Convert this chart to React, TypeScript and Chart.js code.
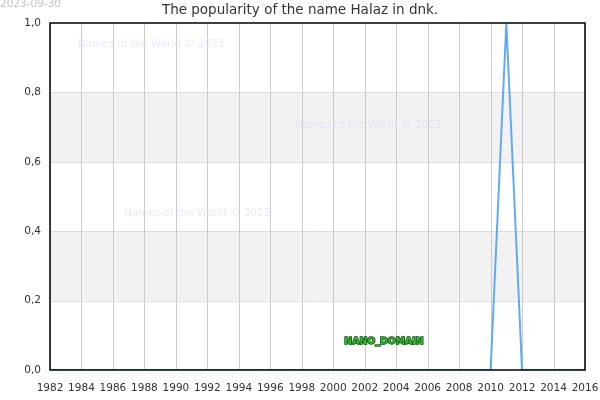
import { useEffect, useRef } from "react"
import { Chart, registerables } from "chart.js"

Chart.register(...registerables)

const years = [
  1982, 1983, 1984, 1985, 1986, 1987, 1988, 1989, 1990, 1991, 1992, 1993,
  1994, 1995, 1996, 1997, 1998, 1999, 2000, 2001, 2002, 2003, 2004, 2005,
  2006, 2007, 2008, 2009, 2010, 2011, 2012, 2013, 2014, 2015, 2016,
]
const popularity = [
  0, 0, 0, 0, 0, 0, 0, 0, 0, 0, 0, 0,
  0, 0, 0, 0, 0, 0, 0, 0, 0, 0, 0, 0,
  0, 0, 0, 0, 0, 1, 0, 0, 0, 0, 0,
]
const bands = [
  [0.2, 0.4],
  [0.6, 0.8],
]
const watermarks = [
  { x: 78, y: 44 },
  { x: 295, y: 125 },
  { x: 124, y: 213 },
]

const FONT = "DejaVu Sans"

const decorPlugin = {
  id: "decor",
  beforeDatasetsDraw(chart: any) {
    const { ctx, chartArea, scales } = chart
    ctx.save()
    bands.forEach(([lo, hi]) => {
      const y1 = scales.y.getPixelForValue(hi)
      const y2 = scales.y.getPixelForValue(lo)
      ctx.fillStyle = "#f2f2f2"
      ctx.fillRect(chartArea.left, y1, chartArea.right - chartArea.left, y2 - y1)
      ctx.strokeStyle = "#dddddd"
      ctx.lineWidth = 1
      ctx.beginPath()
      ctx.moveTo(chartArea.left, Math.round(y1) + 0.5)
      ctx.lineTo(chartArea.right, Math.round(y1) + 0.5)
      ctx.moveTo(chartArea.left, Math.round(y2) + 0.5)
      ctx.lineTo(chartArea.right, Math.round(y2) + 0.5)
      ctx.stroke()
    })
    // vertical grid on top of bands
    ctx.strokeStyle = "#cccccc"
    ctx.lineWidth = 1
    ctx.beginPath()
    scales.x.ticks.forEach((t: any) => {
      const x = Math.round(scales.x.getPixelForValue(t.value)) + 0.5
      ctx.moveTo(x, chartArea.top)
      ctx.lineTo(x, chartArea.bottom)
    })
    ctx.stroke()
    ctx.font = `10.4px "${FONT}"`
    ctx.fillStyle = "rgba(215,215,250,0.55)"
    ctx.textBaseline = "middle"
    ctx.textAlign = "left"
    watermarks.forEach((w) => ctx.fillText("Names of the World © 2023", w.x, w.y))
    ctx.restore()
  },
  afterDraw(chart: any) {
    const { ctx, chartArea } = chart
    ctx.save()
    ctx.strokeStyle = "#000000"
    ctx.lineWidth = 1.5
    ctx.strokeRect(chartArea.left, chartArea.top, chartArea.right - chartArea.left, chartArea.bottom - chartArea.top)

    ctx.font = `10.5px "${FONT}"`
    ctx.fillStyle = "#c4c4c4"
    ctx.textBaseline = "middle"
    ctx.textAlign = "left"
    ctx.fillText("2023-09-30", 0, 4)

    ctx.font = `13.5px "${FONT}"`
    ctx.fillStyle = "#333333"
    ctx.textAlign = "center"
    ctx.fillText("The popularity of the name Halaz in dnk.", 300, 10)

    ctx.font = `bold 9.4px "${FONT}"`
    ctx.lineWidth = 1.5
    ctx.strokeStyle = "#0a4a0a"
    ctx.fillStyle = "#33bb33"
    ctx.strokeText("NANO_DOMAIN", 384, 342)
    ctx.fillText("NANO_DOMAIN", 384, 342)
    ctx.restore()
  },
}

export default function App() {
  const chartRef = useRef<HTMLCanvasElement | null>(null)
  const chartInstance = useRef<Chart | null>(null)

  useEffect(() => {
    document.body.style.margin = "0"
    if (!chartRef.current) return
    if (chartInstance.current) chartInstance.current.destroy()
    const ctx = chartRef.current.getContext("2d")
    if (!ctx) return

    chartInstance.current = new Chart(ctx, {
      type: "line",
      data: {
        datasets: [
          {
            data: years.map((y, i) => ({ x: y, y: popularity[i] })),
            borderColor: "#60aaf5",
            borderWidth: 2,
            pointRadius: 0,
            tension: 0,
            fill: false,
          },
        ],
      },
      options: {
        animation: false,
        responsive: true,
        maintainAspectRatio: false,
        layout: { padding: { top: 23, right: 15, left: 0, bottom: 0 } },
        plugins: { legend: { display: false }, tooltip: { enabled: false } },
        scales: {
          x: {
            type: "linear",
            min: 1982,
            max: 2016,
            ticks: {
              stepSize: 2,
              color: "#333333",
              font: { family: FONT, size: 10.5 },
              callback: (v: any) => String(v),
              maxRotation: 0,
              autoSkip: false,
              padding: 4,
            },
            grid: { display: false },
            border: { display: false },
            afterFit: (s: any) => {
              s.height = 30
              s.paddingLeft = 0
              s.paddingRight = 0
            },
          },
          y: {
            min: 0,
            max: 1,
            ticks: {
              stepSize: 0.2,
              color: "#333333",
              font: { family: FONT, size: 10.5 },
              callback: (v: any) => Number(v).toFixed(1).replace(".", ","),
              padding: 1,
            },
            grid: { display: false },
            border: { display: false },
            afterFit: (s: any) => {
              s.width = 50
              s.paddingTop = 0
              s.paddingBottom = 0
            },
          },
        },
      },
      plugins: [decorPlugin],
    })

    return () => {
      if (chartInstance.current) {
        chartInstance.current.destroy()
        chartInstance.current = null
      }
    }
  }, [])

  return (
    <div style={{ width: 600, height: 400 }}>
      <canvas ref={chartRef} />
    </div>
  )
}
